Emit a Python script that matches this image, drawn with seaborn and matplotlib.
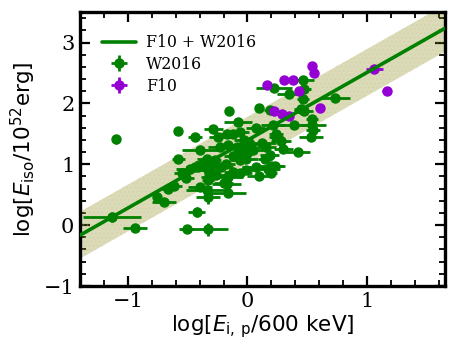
import numpy as np
import pandas as pd
import matplotlib
matplotlib.use("Agg")
import matplotlib.pyplot as plt
import seaborn as sns

# ---- data: W2016 sample (log Ep/600keV, log Eiso/1e52 erg, errors) ----
w_x = [-1.133, -1.10, -0.94, -0.755, -0.70, -0.66, -0.61, -0.578, -0.578, -0.51,
       -0.425, -0.508, -0.33, -0.40, -0.34, -0.33, -0.16, -0.41, -0.34, -0.33,
       -0.31, -0.33, -0.175, -0.16, -0.287, -0.153, -0.078, 0.10, -0.245, -0.175,
       -0.12, -0.064, -0.23, -0.16, -0.09, -0.02, 0.005, 0.047, -0.064, -0.01,
       0.075, 0.144, 0.186, 0.20, -0.12, -0.064, -0.01, 0.158, 0.24, 0.213,
       0.22, 0.465, 0.47, 0.35, 0.73, 0.465, 0.19, 0.45, 0.47, 0.54,
       0.39, 0.54, 0.55, 0.53, 0.42, 0.28, 0.24, 0.23, 0.17, 0.20,
       -0.48, -0.44, -0.36, -0.30, -0.27, -0.22, -0.18, -0.12, -0.08, -0.03,
       0.02, -0.26, -0.20, 0.10, 0.12, 0.30, 0.07, -0.40, -0.55, -0.44]
w_y = [0.136, 1.41, -0.05, 0.46, 0.38, 0.60, 0.64, 1.09, 1.54, 0.77,
       0.22, -0.07, -0.07, 1.23, 0.57, 0.46, 0.52, 0.96, 1.09, 0.90,
       0.79, 0.74, 0.68, 0.79, 1.585, 1.87, 1.70, 1.93, 1.45, 1.50,
       1.50, 1.53, 1.28, 1.31, 1.28, 1.28, 1.20, 1.23, 1.07, 1.09,
       0.96, 1.09, 1.15, 0.98, 0.87, 0.85, 0.90, 1.28, 1.50, 1.64,
       2.26, 2.38, 2.24, 2.16, 2.09, 2.08, 1.89, 1.91, 1.87, 1.75,
       1.64, 1.64, 1.56, 1.45, 1.21, 1.39, 1.45, 0.98, 0.93, 0.85,
       0.93, 0.96, 1.04, 1.01, 1.07, 0.95, 1.00, 1.13, 1.18, 1.40,
       1.33, 0.83, 0.70, 0.80, 1.35, 1.25, 1.60, 0.62, 0.85, 1.45]
w_xerr = [0.245, 0.0, 0.10, 0.03, 0.10, 0.05, 0.06, 0.055, 0.0, 0.06,
          0.07, 0.06, 0.17, 0.15, 0.17, 0.10, 0.15, 0.10, 0.08, 0.10,
          0.08, 0.05, 0.12, 0.12, 0.08, 0.0, 0.12, 0.03, 0.08, 0.06,
          0.06, 0.08, 0.10, 0.08, 0.10, 0.06, 0.06, 0.08, 0.08, 0.10,
          0.12, 0.06, 0.08, 0.10, 0.08, 0.10, 0.06, 0.08, 0.06, 0.10,
          0.15, 0.09, 0.06, 0.10, 0.125, 0.05, 0.05, 0.06, 0.08, 0.05,
          0.12, 0.12, 0.06, 0.10, 0.10, 0.08, 0.06, 0.08, 0.10, 0.05,
          0.12, 0.06, 0.08, 0.06, 0.05, 0.10, 0.08, 0.08, 0.06, 0.08,
          0.10, 0.10, 0.08, 0.10, 0.12, 0.08, 0.08, 0.10, 0.06, 0.06]
w_yerr = [0.08, 0.07, 0.04, 0.10, 0.04, 0.04, 0.05, 0.03, 0.03, 0.03,
          0.08, 0.03, 0.11, 0.03, 0.04, 0.12, 0.04, 0.04, 0.03, 0.04,
          0.04, 0.05, 0.04, 0.04, 0.03, 0.03, 0.03, 0.03, 0.03, 0.03,
          0.03, 0.03, 0.03, 0.03, 0.03, 0.03, 0.03, 0.03, 0.03, 0.03,
          0.03, 0.03, 0.03, 0.04, 0.03, 0.03, 0.03, 0.03, 0.03, 0.03,
          0.05, 0.04, 0.05, 0.03, 0.05, 0.05, 0.03, 0.03, 0.05, 0.05,
          0.03, 0.05, 0.05, 0.05, 0.05, 0.03, 0.03, 0.04, 0.04, 0.04,
          0.03, 0.03, 0.03, 0.03, 0.03, 0.03, 0.03, 0.03, 0.03, 0.03,
          0.03, 0.05, 0.04, 0.04, 0.03, 0.03, 0.03, 0.04, 0.04, 0.03]

# ---- data: F10 sample ----
f_x = [0.167, 0.305, 0.38, 0.43, 0.538, 0.555, 1.06, 1.163, 0.61, 0.22, 0.29, 0.35]
f_y = [2.30, 2.38, 2.38, 2.20, 2.62, 2.50, 2.57, 2.20, 1.93, 1.87, 1.82, 1.80]
f_xerr = [0.02, 0.02, 0.02, 0.02, 0.02, 0.02, 0.07, 0.04, 0.02, 0.02, 0.02, 0.02]
f_yerr = [0.02, 0.02, 0.02, 0.02, 0.02, 0.02, 0.02, 0.02, 0.02, 0.02, 0.02, 0.02]

# ---- joint fit (F10 + W2016) ----
fit_slope = 1.115
fit_intercept = 1.395
fit_scatter = 0.385
x_range = [-1.4, 1.65]

sns.set_style("ticks")
plt.rcParams["font.family"] = ["DejaVu Serif"]
plt.rcParams["mathtext.fontset"] = "dejavusans"
for k in ["axes.edgecolor", "xtick.color", "ytick.color", "text.color",
          "axes.labelcolor"]:
    plt.rcParams[k] = "black"

fig = plt.figure(figsize=(4.62, 3.52), dpi=100)
ax = fig.add_axes([0.173, 0.1875, 0.790, 0.778])

xg = np.linspace(x_range[0], x_range[1], 50)
yg = fit_intercept + fit_slope * xg
ax.fill_between(xg, yg - fit_scatter, yg + fit_scatter, facecolor="olive",
                alpha=0.28, hatch="....", edgecolor="#cac79c", linewidth=0, zorder=1)

fit_df = pd.DataFrame({"x": xg, "y": yg})
sns.lineplot(data=fit_df, x="x", y="y", ax=ax, color="green", lw=2.6,
             label="F10 + W2016", zorder=4)

ax.errorbar(w_x, w_y, xerr=w_xerr, yerr=w_yerr, fmt="o", color="green",
            ms=6.5, elinewidth=2, capsize=0, label="W2016", zorder=3)
ax.errorbar(f_x, f_y, xerr=f_xerr, yerr=f_yerr, fmt="o", color="darkviolet",
            ms=6.5, elinewidth=2, capsize=0, label="F10", zorder=3)

ax.set_xlim(-1.4, 1.65)
ax.set_ylim(-1, 3.5)
ax.set_xticks([-1, 0, 1])
ax.set_yticks([-1, 0, 1, 2, 3])
ax.xaxis.set_minor_locator(matplotlib.ticker.MultipleLocator(0.2))
ax.yaxis.set_minor_locator(matplotlib.ticker.MultipleLocator(0.2))
ax.tick_params(which="both", direction="in", top=True, right=True,
               colors="black", labelcolor="black")
ax.tick_params(which="major", length=7, width=1.6, labelsize=15, pad=4)
ax.tick_params(which="minor", length=4, width=1.3)
for s in ax.spines.values():
    s.set_linewidth(2.4)
    s.set_color("black")
    s.set_visible(True)

ax.set_xlabel(r"$\log[E_{\rm i,\,p}/600\ {\rm keV}]$", fontsize=15.5, labelpad=2)
ax.set_ylabel(r"$\log[E_{\rm iso}/10^{52}{\rm erg}]$", fontsize=15.5, labelpad=4)

ax.legend(loc="upper left", frameon=False, fontsize=11.3, handlelength=2.2,
          borderaxespad=1.0, labelspacing=0.3, handletextpad=0.6)

fig.savefig("out.png", dpi=100)
